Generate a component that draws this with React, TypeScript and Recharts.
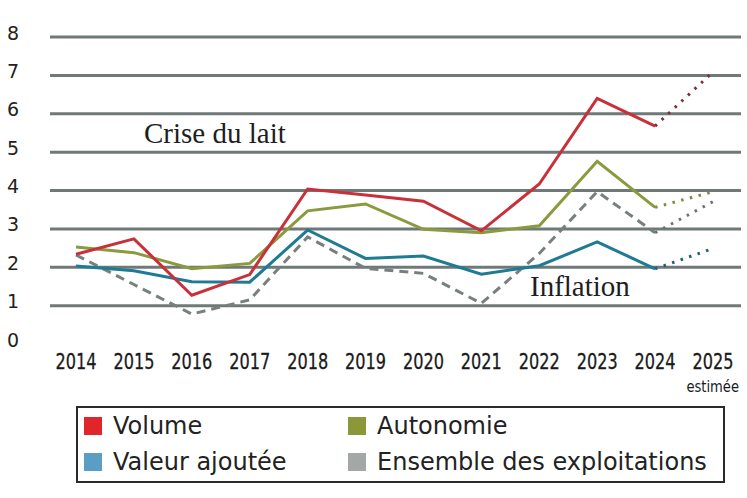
import React from "react";
import { LineChart, Line, XAxis, YAxis, CartesianGrid } from "recharts";

const years = ["2014", "2015", "2016", "2017", "2018", "2019", "2020", "2021", "2022", "2023", "2024", "2025"];
const volume = [2.34, 2.74, 1.27, 1.81, 4.04, 3.88, 3.72, 2.95, 4.17, 6.4, 5.68, 7.09];
const autonomie = [2.53, 2.38, 1.96, 2.1, 3.47, 3.65, 2.99, 2.9, 3.08, 4.76, 3.56, 3.97];
const valeurAjoutee = [2.03, 1.91, 1.62, 1.61, 2.97, 2.23, 2.29, 1.82, 2.04, 2.66, 1.96, 2.49];
const ensemble = [2.32, 1.55, 0.78, 1.15, 2.79, 1.97, 1.84, 1.06, 2.36, 3.97, 2.9, 3.71];
const yTicks = [0, 1, 2, 3, 4, 5, 6, 7, 8];
const gridValues = [1, 2, 3, 4, 5, 6, 7, 8];
const estimatedYear = "2025";
const lastActualIndex = 10;

const legendItems = [
  { label: "Volume", color: "#e0262b" },
  { label: "Autonomie", color: "#8a9838" },
  { label: "Valeur ajoutée", color: "#5a9fc3" },
  { label: "Ensemble des exploitations", color: "#a3a8a7" },
];

const split = (arr: number[]) => ({
  solid: arr.map((v, k) => (k <= lastActualIndex ? v : null)),
  dotted: arr.map((v, k) => (k >= lastActualIndex ? v : null)),
});

const sv = split(volume);
const sa = split(autonomie);
const sva = split(valeurAjoutee);
const se = split(ensemble);

const data = years.map((y, i) => ({
  year: y,
  vol: sv.solid[i],
  volP: sv.dotted[i],
  aut: sa.solid[i],
  autP: sa.dotted[i],
  va: sva.solid[i],
  vaP: sva.dotted[i],
  ens: se.solid[i],
  ensP: se.dotted[i],
}));

const sansFont = "'DejaVu Sans', 'Open Sans', sans-serif";
const serifFont = "'Liberation Serif', 'DejaVu Serif', serif";

const YTick = (props: any) => {
  const { y, payload } = props;
  return (
    <text x={7} y={y + 2.5} textAnchor="start" fontFamily={sansFont} fontSize={19} fill="#222">
      {payload.value}
    </text>
  );
};

const XTick = (props: any) => {
  const { x, y, payload } = props;
  return (
    <g>
      <text
        x={x - 20.5}
        y={y + 16.5}
        textAnchor="start"
        fontFamily={sansFont}
        fontSize={20.5}
        fill="#1a1a1a"
        stroke="#1a1a1a"
        strokeWidth={0.3}
        textLength={41}
        lengthAdjust="spacingAndGlyphs"
      >
        {payload.value}
      </text>
      {payload.value === estimatedYear && (
        <text
          transform={`translate(${x + 26}, ${y + 40}) scale(0.82, 1)`}
          textAnchor="end"
          fontFamily={sansFont}
          fontSize={16}
          fill="#1a1a1a"
        >
          estimée
        </text>
      )}
    </g>
  );
};

const LegendBox = () => (
  <div
    style={{
      position: "absolute",
      left: 76,
      top: 406,
      boxSizing: "border-box",
      width: 649,
      height: 77,
      border: "2px solid #2a2a2a",
      fontFamily: sansFont,
      fontSize: 24,
      color: "#222",
    }}
  >
    {legendItems.map((it, i) => {
      const col = i % 2;
      const row = Math.floor(i / 2);
      return (
        <div
          key={it.label}
          style={{
            position: "absolute",
            left: col === 0 ? 6 : 270,
            top: row === 0 ? 9 : 45,
            display: "flex",
            alignItems: "center",
            whiteSpace: "nowrap",
            height: 18,
          }}
        >
          <span style={{ display: "inline-block", width: 18, height: 18, background: it.color, marginRight: 11 }} />
          <span style={{ lineHeight: "18px" }}>{it.label}</span>
        </div>
      );
    })}
  </div>
);

export default function App() {
  return (
    <div style={{ position: "absolute", left: 0, top: 0, width: 747, height: 498, background: "#fff" }}>
      <LineChart width={747} height={498} data={data} margin={{ top: 37, right: 6, left: 0, bottom: 104 }}>
        <CartesianGrid horizontal vertical={false} horizontalValues={gridValues} stroke="#6f7a78" strokeWidth={3} />
        <XAxis
          dataKey="year"
          axisLine={false}
          tickLine={false}
          height={50}
          padding={{ left: 26, right: 28 }}
          tick={<XTick />}
          interval={0}
        />
        <YAxis
          domain={[0, 8]}
          ticks={yTicks}
          width={50}
          axisLine={false}
          tickLine={false}
          tick={<YTick />}
        />
        <Line dataKey="ens" stroke="#76807e" strokeWidth={3} strokeDasharray="9 6" dot={false} isAnimationActive={false} />
        <Line dataKey="ensP" stroke="#6a7270" strokeWidth={3} strokeDasharray="2.5 6.5" dot={false} isAnimationActive={false} />
        <Line dataKey="va" stroke="#1f7a93" strokeWidth={3} dot={false} isAnimationActive={false} />
        <Line dataKey="vaP" stroke="#1d5f7a" strokeWidth={3} strokeDasharray="2.5 6.5" dot={false} isAnimationActive={false} />
        <Line dataKey="aut" stroke="#8a9a3c" strokeWidth={3} dot={false} isAnimationActive={false} />
        <Line dataKey="autP" stroke="#7d8a3a" strokeWidth={3} strokeDasharray="2.5 6.5" dot={false} isAnimationActive={false} />
        <Line dataKey="vol" stroke="#c8303a" strokeWidth={3} dot={false} isAnimationActive={false} />
        <Line dataKey="volP" stroke="#7e2f3c" strokeWidth={3} strokeDasharray="2.5 6.5" dot={false} isAnimationActive={false} />
      </LineChart>
      <LegendBox />
      <svg width={747} height={498} style={{ position: "absolute", left: 0, top: 0, pointerEvents: "none" }}>
        <text x={144} y={143} fontFamily={serifFont} fontSize={29} fill="#1e1e1e">
          Crise du lait
        </text>
        <text x={530} y={296} fontFamily={serifFont} fontSize={29} fill="#1e1e1e">
          Inflation
        </text>
      </svg>
    </div>
  );
}
